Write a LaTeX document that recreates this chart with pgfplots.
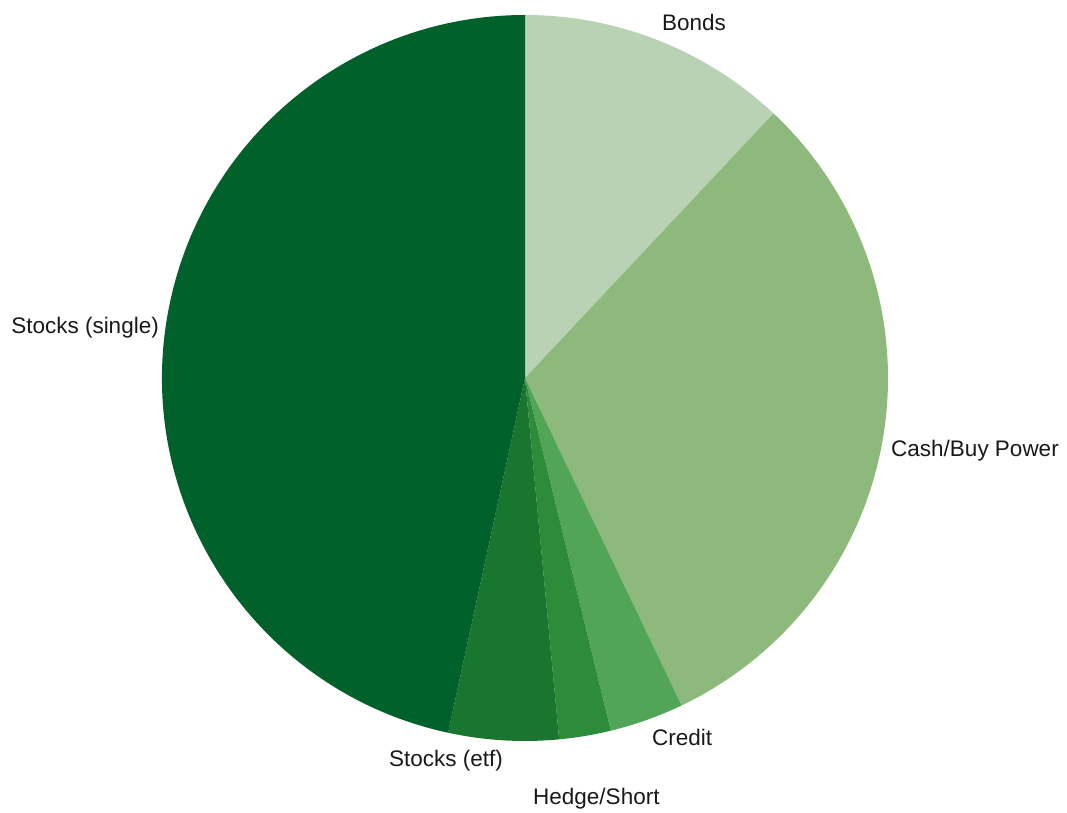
\documentclass[border=0pt]{standalone}
\usepackage{pgfplots}
\pgfplotsset{compat=1.18}
\usepackage{pgfplotstable}
\usepackage{fontspec}
\setmainfont{Liberation Sans}
\definecolor{cBonds}{HTML}{B9D2B3}
\definecolor{cCash}{HTML}{8DBA7C}
\definecolor{cCredit}{HTML}{52A556}
\definecolor{cHedge}{HTML}{2C8C3A}
\definecolor{cEtf}{HTML}{1A762F}
\definecolor{cSingle}{HTML}{00612A}
\pgfplotstableread{
label value color
Bonds 12.0 cBonds
Cash 30.9 cCash
Credit 3.3 cCredit
Hedge 2.3 cHedge
Etf 4.9 cEtf
Single 46.6 cSingle
}\piedata
\begin{document}
\begin{tikzpicture}
\path[use as bounding box] (0,0) rectangle (1067bp,813bp);
\begin{axis}[
  at={(0,0)}, anchor=south west,
  width=1067bp, height=813bp, scale only axis,
  xmin=0, xmax=1067, ymin=0, ymax=813,
  hide axis, clip=false,
]
\pgfmathsetmacro\cum{0}
\pgfplotsforeachungrouped \i in {0,...,5}{%
  \pgfplotstablegetelem{\i}{value}\of\piedata \let\v\pgfplotsretval
  \pgfplotstablegetelem{\i}{color}\of\piedata \let\c\pgfplotsretval
  \pgfmathsetmacro\a{90-3.6*\cum}%
  \pgfmathsetmacro\b{90-3.6*(\cum+\v)}%
  \edef\tmp{\noexpand\fill[\c] (axis cs:525,435) -- ++(\a:363bp) arc[start angle=\a, end angle=\b, radius=363bp] -- cycle;}%
  \tmp
  \pgfmathsetmacro\cum{\cum+\v}%
}
\tikzset{lbl/.style={inner sep=0pt, font=\fontsize{22.5bp}{27bp}\selectfont, text=black!90}}
\node[lbl, anchor=base west] at (axis cs:662,782) {Bonds};
\node[lbl, anchor=base west] at (axis cs:891,356) {Cash/Buy Power};
\node[lbl, anchor=base west] at (axis cs:652,67) {Credit};
\node[lbl, anchor=base east] at (axis cs:503,46) {Stocks (etf)};
\node[lbl, anchor=base west] at (axis cs:533,8) {Hedge/Short};
\node[lbl, anchor=base east] at (axis cs:159,479) {Stocks (single)};
\end{axis}
\end{tikzpicture}
\end{document}
